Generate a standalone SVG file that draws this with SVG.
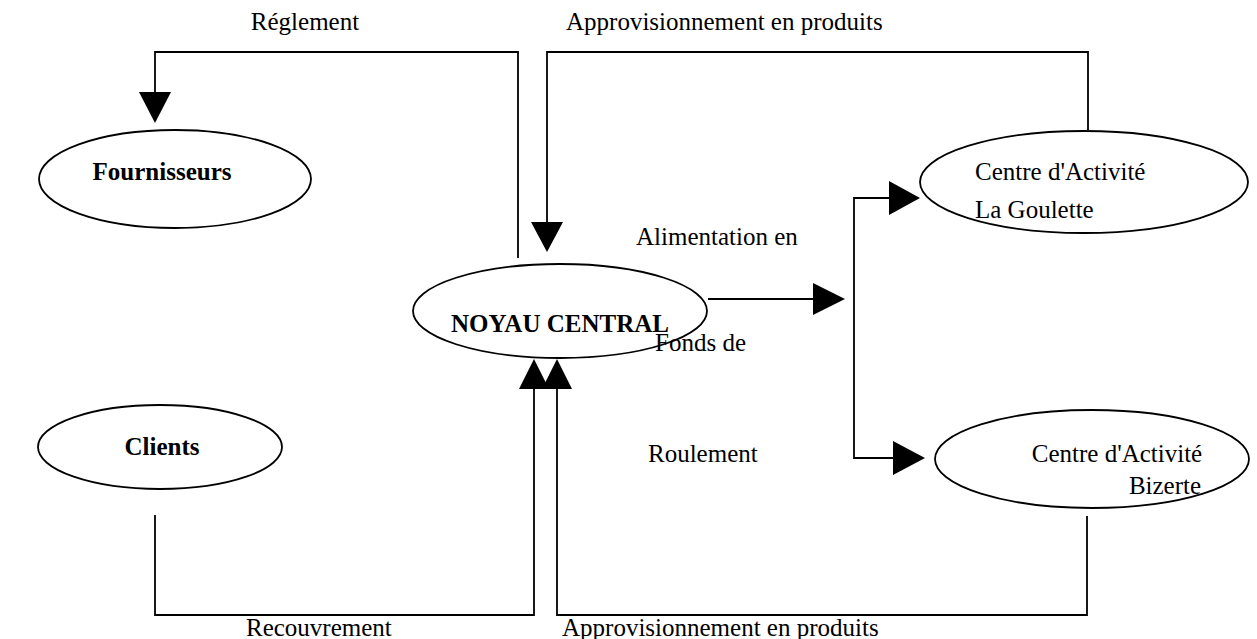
<svg xmlns="http://www.w3.org/2000/svg" width="1257" height="639" viewBox="0 0 1257 639">
<style>
.n{fill:#fff;stroke:#000;stroke-width:1.8}
.c{fill:none;stroke:#000;stroke-width:1.8}
.h{fill:#000;stroke:none}
.t{font-family:"Liberation Serif","Times New Roman",serif;font-size:25px;fill:#000}
.b{font-weight:bold}
</style>
<rect width="1257" height="639" fill="#fff"/>
<g id="connectors">
  <polyline class="c" points="518,258 518,52 155,52 155,93"/>
  <polygon class="h" points="139,92 171,92 155,123"/>
  <polyline class="c" points="1088,130 1088,52 547,52 547,223"/>
  <polygon class="h" points="531,222 563,222 547,252"/>
  <polyline class="c" points="708,299 814,299"/>
  <polygon class="h" points="813,283 813,315 845,299"/>
  <polyline class="c" points="889,198 854,198 854,458 893,458"/>
  <polygon class="h" points="889,181 889,215 920,198"/>
  <polygon class="h" points="893,441 893,475 925,458"/>
  <polyline class="c" points="155,515 155,615 534,615 534,388"/>
  <polygon class="h" points="519,389 549,389 534,359"/>
  <polyline class="c" points="1087,516 1087,615 557,615 557,388"/>
  <polygon class="h" points="542,389 572,389 557,359"/>
</g>
<g id="fournisseurs">
  <ellipse class="n" cx="175" cy="179" rx="136" ry="49"/>
  <text class="t b" x="162" y="180" text-anchor="middle" font-size="26">Fournisseurs</text>
</g>
<g id="clients">
  <ellipse class="n" cx="160" cy="447" rx="122" ry="42"/>
  <text class="t b" x="162" y="455" text-anchor="middle" font-size="26">Clients</text>
</g>
<g id="noyau">
  <ellipse class="n" cx="560" cy="311" rx="147" ry="47"/>
  <text class="t b" x="560" y="332" text-anchor="middle" font-size="27">NOYAU CENTRAL</text>
</g>
<g id="goulette">
  <ellipse class="n" cx="1084" cy="182" rx="164" ry="51"/>
  <text class="t" x="975" y="180">Centre d'Activité</text>
  <text class="t" x="975" y="218">La Goulette</text>
</g>
<g id="bizerte">
  <ellipse class="n" cx="1092" cy="459" rx="157" ry="49"/>
  <text class="t" x="1117" y="462" text-anchor="middle">Centre d'Activité</text>
  <text class="t" x="1165" y="494" text-anchor="middle">Bizerte</text>
</g>
<g id="labels">
  <text class="t" x="305" y="30" text-anchor="middle">Réglement</text>
  <text class="t" x="566" y="30">Approvisionnement en produits</text>
  <text class="t" x="636" y="245">Alimentation en</text>
  <text class="t" x="655" y="351">Fonds de</text>
  <text class="t" x="648" y="462">Roulement</text>
  <text class="t" x="246" y="636">Recouvrement</text>
  <text class="t" x="562" y="636">Approvisionnement en produits</text>
</g>
</svg>
